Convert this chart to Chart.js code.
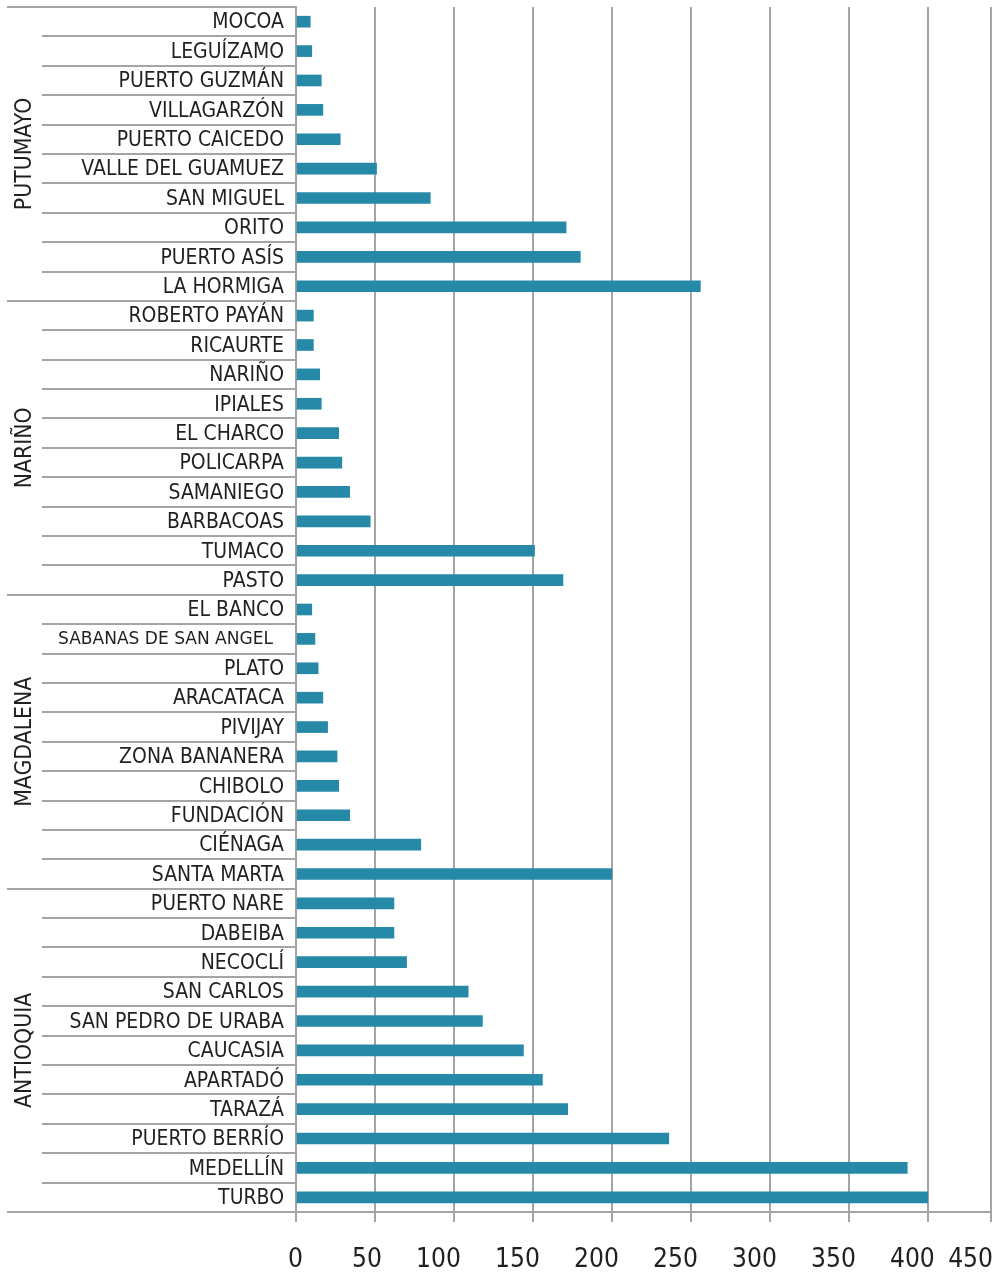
<!DOCTYPE html>
<html>
<head>
<meta charset="utf-8">
<script src="https://cdn.jsdelivr.net/npm/chart.js@4.4.1/dist/chart.umd.min.js"></script>
<style>
  html, body { margin: 0; padding: 0; background: #ffffff; }
  canvas { display: block; }
</style>
</head>
<body>
<canvas id="c" width="1002" height="1284"></canvas>
<script>
// ---- data ----
const groupNames = ['PUTUMAYO', 'NARIÑO', 'MAGDALENA', 'ANTIOQUIA'];

const putumayoLabels = ['MOCOA', 'LEGUÍZAMO', 'PUERTO GUZMÁN', 'VILLAGARZÓN', 'PUERTO CAICEDO',
  'VALLE DEL GUAMUEZ', 'SAN MIGUEL', 'ORITO', 'PUERTO ASÍS', 'LA HORMIGA'];
const putumayoValues = [9, 10, 16, 17, 28, 51, 85, 171, 180, 256];

const narinoLabels = ['ROBERTO PAYÁN', 'RICAURTE', 'NARIÑO', 'IPIALES', 'EL CHARCO',
  'POLICARPA', 'SAMANIEGO', 'BARBACOAS', 'TUMACO', 'PASTO'];
const narinoValues = [11, 11, 15, 16, 27, 29, 34, 47, 151, 169];

const magdalenaLabels = ['EL BANCO', 'SABANAS DE SAN ANGEL', 'PLATO', 'ARACATACA', 'PIVIJAY',
  'ZONA BANANERA', 'CHIBOLO', 'FUNDACIÓN', 'CIÉNAGA', 'SANTA MARTA'];
const magdalenaValues = [10, 12, 14, 17, 20, 26, 27, 34, 79, 200];

const antioquiaLabels = ['PUERTO NARE', 'DABEIBA', 'NECOCLÍ', 'SAN CARLOS', 'SAN PEDRO DE URABA',
  'CAUCASIA', 'APARTADÓ', 'TARAZÁ', 'PUERTO BERRÍO', 'MEDELLÍN', 'TURBO'];
const antioquiaValues = [62, 62, 70, 109, 118, 144, 156, 172, 236, 387, 400];

// gridline values on the x axis and the labels written under them
const xTickValues = [0, 50, 100, 150, 200, 250, 300, 350, 400, 440];
const xTickLabels = ['0', '50', '100', '150', '200', '250', '300', '350', '400', '450'];

// ---- build ----
const groupLabelSets = [putumayoLabels, narinoLabels, magdalenaLabels, antioquiaLabels];
const groupValueSets = [putumayoValues, narinoValues, magdalenaValues, antioquiaValues];
const labels = [].concat(...groupLabelSets);
const values = [].concat(...groupValueSets);

const FONT = "'DejaVu Sans', 'Noto Sans', sans-serif";
const TEXT = '#231f20';
const LINE = '#a4a4a4';

function drawText(ctx, text, x, y, size, sx, align) {
  ctx.save();
  ctx.translate(x, y);
  ctx.scale(sx, 1);
  ctx.font = size + 'px ' + FONT;
  ctx.textAlign = align;
  ctx.textBaseline = 'alphabetic';
  ctx.fillStyle = TEXT;
  ctx.fillText(text, 0, 0);
  ctx.restore();
}

const annotPlugin = {
  id: 'annot',
  afterDraw(chart) {
    const { ctx, chartArea, scales } = chart;
    const x = scales.x, y = scales.y;
    const n = labels.length;
    const starts = new Set();
    let acc = 0;
    starts.add(0);
    groupLabelSets.forEach(g => { acc += g.length; starts.add(acc); });

    const bound = i => i === 0 ? chartArea.top : (i === n ? chartArea.bottom :
      (y.getPixelForValue(i - 1) + y.getPixelForValue(i)) / 2);

    // row separators in the label column
    ctx.save();
    ctx.strokeStyle = LINE;
    ctx.lineWidth = 2;
    for (let i = 0; i <= n; i++) {
      const yy = Math.round(bound(i));
      const x0 = starts.has(i) ? 7 : 42;
      ctx.beginPath();
      ctx.moveTo(x0, yy);
      ctx.lineTo(chartArea.left, yy);
      ctx.stroke();
    }
    ctx.restore();

    // category labels
    labels.forEach((lab, i) => {
      const yc = y.getPixelForValue(i);
      if (lab === 'SABANAS DE SAN ANGEL') {
        drawText(ctx, lab, 273, yc + 5.5, 17.4, 0.98, 'right');
      } else {
        drawText(ctx, lab, 284, yc + 6.8, 20.5, 0.92, 'right');
      }
    });

    // group labels (vertical)
    let s = 0;
    groupLabelSets.forEach((g, gi) => {
      const top = bound(s), bot = bound(s + g.length);
      const yc = (top + bot) / 2;
      ctx.save();
      ctx.translate(31, yc);
      ctx.rotate(-Math.PI / 2);
      drawText(ctx, groupNames[gi], 0, 0, 23, 0.89, 'center');
      ctx.restore();
      s += g.length;
    });

    // x tick labels
    xTickValues.forEach((v, i) => {
      const px = x.getPixelForValue(v);
      const rx = Math.min(px + 7, chart.width - 9);
      drawText(ctx, xTickLabels[i], rx, 1267, 27, 0.87, 'right');
    });
  }
};

new Chart(document.getElementById('c'), {
  type: 'bar',
  data: {
    labels: labels,
    datasets: [{
      data: values,
      backgroundColor: '#2689a8',
      borderWidth: 0,
      barThickness: 11
    }]
  },
  options: {
    indexAxis: 'y',
    responsive: false,
    animation: false,
    layout: { padding: { top: 7, right: 11, left: 0, bottom: 0 } },
    plugins: { legend: { display: false }, tooltip: { enabled: false } },
    scales: {
      x: {
        type: 'linear',
        min: 0,
        max: 440,
        afterBuildTicks: s => { s.ticks = xTickValues.map(v => ({ value: v })); },
        ticks: { display: false },
        grid: { color: LINE, lineWidth: 2, drawTicks: true, tickLength: 10 },
        border: { display: true, color: LINE, width: 2 },
        afterFit: s => { s.height = 72; }
      },
      y: {
        ticks: { display: false },
        grid: { display: false },
        border: { display: true, color: LINE, width: 2 },
        afterFit: s => { s.width = 296; }
      }
    }
  },
  plugins: [annotPlugin]
});
</script>
</body>
</html>
